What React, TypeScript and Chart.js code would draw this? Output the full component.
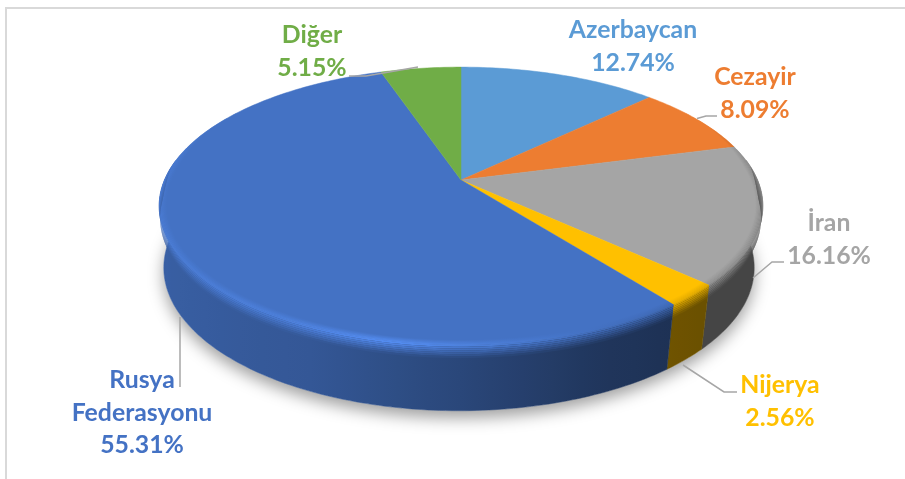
import React, { useEffect, useRef } from "react";
import { Chart, registerables } from "chart.js";

Chart.register(...registerables);

const categories = ["Azerbaycan", "Cezayir", "İran", "Nijerya", "Rusya Federasyonu", "Diğer"];
const shares = [12.74, 8.09, 16.16, 2.56, 55.31, 5.15];
const colors = ["#5B9BD5", "#ED7D31", "#A5A5A5", "#FFC000", "#4472C4", "#70AD47"];

// label anchors: centre x and first baseline y
const labelX = [633, 755, 829, 780, 142, 312];
const labelY = [38, 85, 231, 393, 388, 43];
const LINE_GAP = 32.5;
const leaders: number[][][] = [
  [],
  [[717, 116], [706, 116], [697, 118.5]],
  [[784, 262], [772, 262], [753, 278]],
  [[737, 392], [724, 392], [683, 365]],
  [[180, 387], [180, 317]],
  [[349, 76], [366, 76], [418, 67]],
];

const P = 0.187;
const TOP = { cx: 461, cy: 180, rx: 296.5, a: 134 };
const BOT = { cx: 459, cy: 241, rx: 290, a: 138 };

function proj(th: number, r: number, z: number): [number, number] {
  const X = r * Math.cos(th);
  const U = r * Math.sin(th);
  const d = 1 - P * U;
  const tx = TOP.cx + (TOP.rx * X) / d;
  const ty = TOP.cy + (TOP.a * U) / d;
  const bx = BOT.cx + (BOT.rx * X) / d;
  const by = BOT.cy + (BOT.a * U) / d;
  return [tx + (bx - tx) * z, ty + (by - ty) * z];
}

function interp(stops: number[][], x: number): number {
  if (x <= stops[0][0]) return stops[0][1];
  for (let i = 1; i < stops.length; i++) {
    if (x <= stops[i][0]) {
      const f = (x - stops[i - 1][0]) / (stops[i][0] - stops[i - 1][0]);
      return stops[i - 1][1] + (stops[i][1] - stops[i - 1][1]) * f;
    }
  }
  return stops[stops.length - 1][1];
}
const sideStops = [[-1, 0.84], [-0.4, 0.76], [0, 0.62], [0.4, 0.47], [0.7, 0.42], [1, 0.42]];
const hiStops = [[-1, 1.08], [-0.5, 1.14], [-0.2, 1.28], [0.05, 1.15], [0.35, 1.0], [0.7, 0.85], [1, 0.8]];

function shade(hex: string, m: number): string {
  const n = parseInt(hex.slice(1), 16);
  const c = [(n >> 16) & 255, (n >> 8) & 255, n & 255].map((v) => Math.min(255, Math.round(v * m)));
  return `rgb(${c[0]},${c[1]},${c[2]})`;
}
function smooth(a: number, b: number, x: number): number {
  const t = Math.max(0, Math.min(1, (x - a) / (b - a)));
  return t * t * (3 - 2 * t);
}
function path(ctx: CanvasRenderingContext2D, pts: [number, number][]) {
  ctx.beginPath();
  pts.forEach((p, i) => (i ? ctx.lineTo(p[0], p[1]) : ctx.moveTo(p[0], p[1])));
  ctx.closePath();
}

const pie3d = {
  id: "pie3d",
  beforeDatasetsDraw(chart: any) {
    const ctx: CanvasRenderingContext2D = chart.ctx;
    const arcs = chart.getDatasetMeta(0).data;
    const STEP = Math.PI / 180;
    const range = (i: number, lo = -Infinity, hi = Infinity) => {
      const s = Math.max(arcs[i].startAngle, lo);
      const e = Math.min(arcs[i].endAngle, hi);
      const out: number[] = [];
      if (e <= s) return out;
      const n = Math.max(1, Math.ceil((e - s) / STEP));
      for (let k = 0; k <= n; k++) out.push(s + ((e - s) * k) / n);
      return out;
    };
    ctx.save();
    // soft cast shadow under the disc
    ctx.save();
    ctx.shadowColor = "rgba(0,0,0,0.38)";
    ctx.shadowBlur = 16;
    ctx.shadowOffsetY = 7;
    const disc: [number, number][] = [];
    for (let k = 0; k < 360; k++) disc.push(proj((k * Math.PI) / 180, 1, 1));
    path(ctx, disc);
    ctx.fillStyle = "#ffffff";
    ctx.fill();
    ctx.restore();

    // side wall, horizontally graded
    arcs.forEach((_: any, i: number) => {
      const a = range(i, -0.15, Math.PI + 0.15);
      if (!a.length) return;
      const g = ctx.createLinearGradient(150, 0, 770, 0);
      for (let d = 0; d <= 180; d += 5) {
        const th = (d * Math.PI) / 180;
        const x = proj(th, 1, 0.5)[0];
        g.addColorStop(Math.max(0, Math.min(1, (x - 150) / 620)), shade(colors[i], interp(sideStops, Math.cos(th))));
      }
      path(ctx, [...a.map((t) => proj(t, 1, 0)), ...a.slice().reverse().map((t) => proj(t, 1, 1))]);
      ctx.fillStyle = g;
      ctx.strokeStyle = g;
      ctx.lineWidth = 0.5;
      ctx.fill();
      ctx.stroke();
    });

    // top face
    arcs.forEach((_: any, i: number) => {
      const a = range(i);
      path(ctx, [proj(0, 0, 0), ...a.map((t) => proj(t, 1, 0))]);
      ctx.fillStyle = colors[i];
      ctx.strokeStyle = colors[i];
      ctx.lineWidth = 0.5;
      ctx.fill();
      ctx.stroke();
    });

    // bevel along the rim: conic gradient around the apex follows the slice angle
    const N = 14;
    const JOIN = 0.5;
    const prof = (th: number, t: number): [number, number] => {
      const U = Math.sin(th);
      const wTop = smooth(-0.6, -0.05, U);
      const wSide = smooth(-0.12, 0.08, U);
      if (t <= JOIN) return proj(th, 1 - 0.024 * wTop * (1 - t / JOIN), 0);
      return proj(th, 1, 0.2 * wSide * ((t - JOIN) / (1 - JOIN)));
    };
    const mult = (th: number, t: number) => {
      const U = Math.sin(th);
      const nx = Math.cos(th);
      const fade = smooth(-0.6, -0.05, U);
      const H = 1 + (interp(hiStops, nx) - 1) * fade;
      const S = interp(sideStops, nx);
      return t <= JOIN ? 1 + (H - 1) * (t / JOIN) : H + (S - H) * ((t - JOIN) / (1 - JOIN));
    };
    arcs.forEach((_: any, i: number) => {
      for (let s = 0; s < N; s++) {
        const t0 = s / N;
        const t1 = (s + 1) / N;
        const tm = (t0 + t1) / 2;
        const a = tm <= JOIN ? range(i).filter((t) => Math.sin(t) > -0.6) : range(i, -0.1, Math.PI + 0.1);
        if (a.length < 2) continue;
        const g = (ctx as any).createConicGradient(0, TOP.cx, TOP.cy);
        for (let d = 0; d <= 360; d += 4) {
          const th = (d * Math.PI) / 180;
          let phi = Math.atan2(TOP.a * Math.sin(th), TOP.rx * Math.cos(th));
          if (phi < 0) phi += Math.PI * 2;
          if (d === 360) phi = Math.PI * 2;
          g.addColorStop(phi / (Math.PI * 2), shade(colors[i], mult(th, tm)));
        }
        // a slice that wraps through the back keeps its two rim runs separate
        const runs: number[][] = [];
        a.forEach((t, k) => {
          if (k === 0 || t - a[k - 1] > 2 * STEP) runs.push([t]);
          else runs[runs.length - 1].push(t);
        });
        runs.forEach((run) => {
          if (run.length < 2) return;
          path(ctx, [...run.map((t) => prof(t, t0)), ...run.slice().reverse().map((t) => prof(t, t1))]);
          ctx.fillStyle = g;
          ctx.fill();
        });
      }
    });

    // leader lines
    ctx.strokeStyle = "#a6a6a6";
    ctx.lineWidth = 1.5;
    leaders.forEach((l) => {
      if (!l.length) return;
      ctx.beginPath();
      l.forEach((p, i) => (i ? ctx.lineTo(p[0], p[1]) : ctx.moveTo(p[0], p[1])));
      ctx.stroke();
    });

    // labels
    ctx.font = "bold 24.8px Lato";
    ctx.textAlign = "center";
    ctx.textBaseline = "alphabetic";
    categories.forEach((name, i) => {
      const lines = [...name.split(" "), `${shares[i].toFixed(2)}%`];
      ctx.fillStyle = colors[i];
      lines.forEach((ln, j) => ctx.fillText(ln, labelX[i], labelY[i] + j * LINE_GAP));
    });
    ctx.restore();
    return false;
  },
};

export default function App() {
  const ref = useRef<HTMLCanvasElement>(null);
  useEffect(() => {
    const chart = new Chart(ref.current!, {
      type: "pie",
      data: {
        labels: categories,
        datasets: [{ data: shares, backgroundColor: colors, borderWidth: 0 }],
      },
      options: {
        animation: false,
        responsive: false,
        plugins: { legend: { display: false }, tooltip: { enabled: false } },
      },
      plugins: [pie3d],
    } as any);
    return () => chart.destroy();
  }, []);
  return (
    <div style={{ position: "fixed", left: 0, top: 0, width: 905, height: 479, overflow: "hidden", background: "#fff" }}>
      <div style={{ position: "absolute", left: 5, top: 7, width: 905, height: 479, border: "2px solid #d9d9d9", boxSizing: "border-box" }} />
      <canvas ref={ref} width={905} height={479} style={{ position: "absolute", left: 0, top: 0, width: 905, height: 479 }} />
    </div>
  );
}
